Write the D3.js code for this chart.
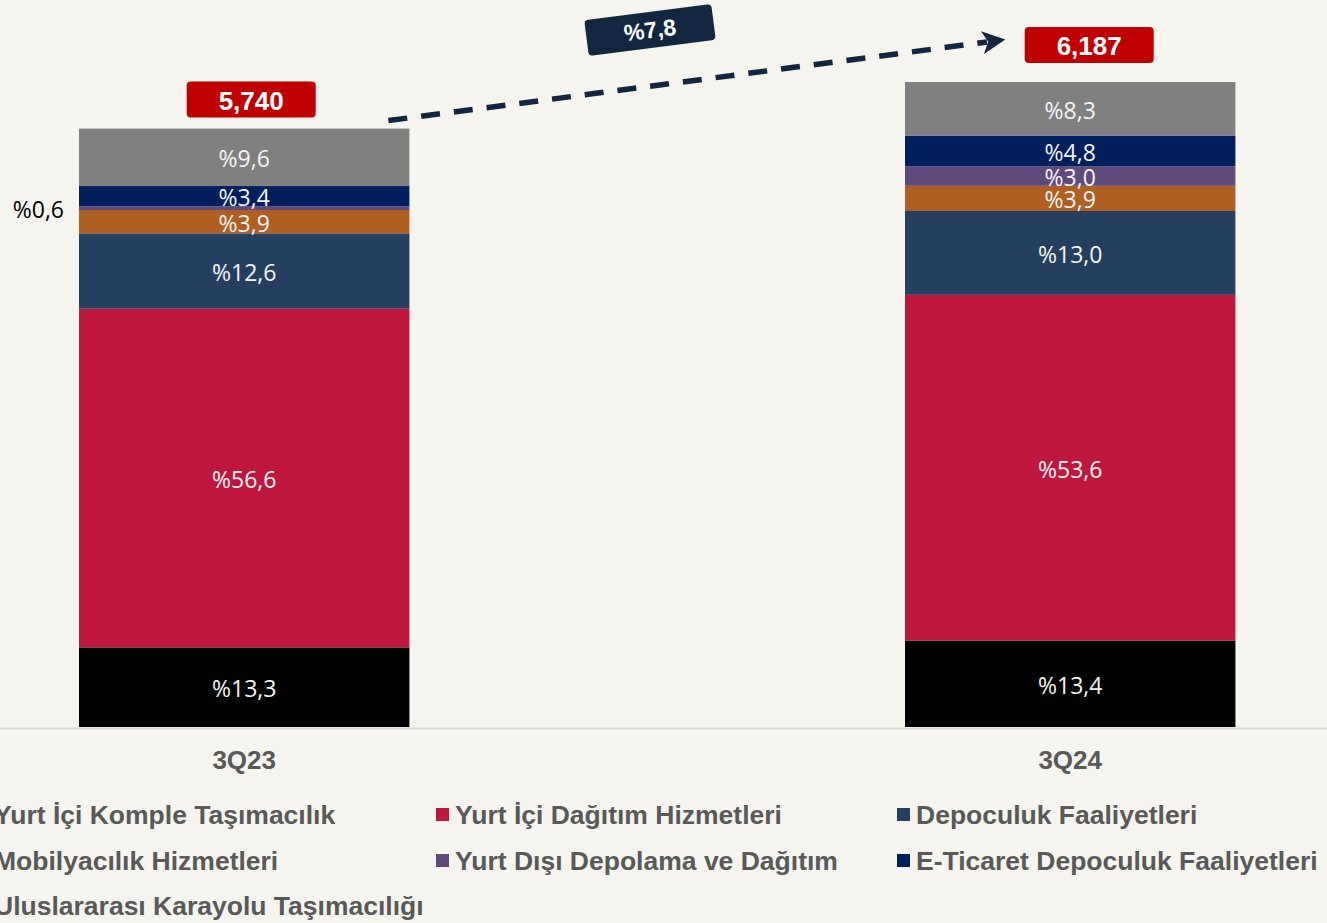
<!DOCTYPE html>
<html><head><meta charset="utf-8">
<script src="https://cdn.jsdelivr.net/npm/d3@7"></script>
<style>
html,body{margin:0;padding:0;background:#F5F4EF;overflow:hidden}
svg{display:block}
</style></head>
<body>
<svg id="c" width="1327" height="923"></svg>
<script>
const categories = ["3Q23", "3Q24"];
const totals = [5740, 6187];
const totalLabels = ["5,740", "6,187"];
const growthLabel = "%7,8";
const seriesNames = [
  "Yurt İçi Komple Taşımacılık",
  "Yurt İçi Dağıtım Hizmetleri",
  "Depoculuk Faaliyetleri",
  "Mobilyacılık Hizmetleri",
  "Yurt Dışı Depolama ve Dağıtım",
  "E-Ticaret Depoculuk Faaliyetleri",
  "Uluslararası Karayolu Taşımacılığı"
];
const share3Q23 = [13.3, 56.6, 12.6, 3.9, 0.6, 3.4, 9.6];
const share3Q24 = [13.4, 53.6, 13.0, 3.9, 3.0, 4.8, 8.3];
const seriesColors = ["#000000", "#BE163C", "#243F60", "#B05F22", "#604A7B", "#001F5C", "#808080"];

const svg = d3.select("#c");
const W = 1327, H = 923;
const baseY = 727;

const x = d3.scaleBand().domain(categories).range([-86.2, 1400.6]).paddingInner(0.6).paddingOuter(0.2);
const y = d3.scaleLinear().domain([0, 6187]).range([baseY, 82]);

const shares = [share3Q23, share3Q24];
const rows = categories.map((c, i) => {
  const r = {cat: c};
  seriesNames.forEach((s, j) => r[s] = shares[i][j] / 100 * totals[i]);
  return r;
});
const stack = d3.stack().keys(seriesNames)(rows);
const fmt = v => "%" + v.toFixed(1).replace(".", ",");

// axis line
svg.append("line").attr("x1", 0).attr("x2", W).attr("y1", baseY + 1.5).attr("y2", baseY + 1.5)
  .attr("stroke", "#D9D9D9").attr("stroke-width", 2);

stack.forEach((layer, j) => {
  const g = svg.append("g");
  layer.forEach((d, i) => {
    g.append("rect")
      .attr("x", x(categories[i]))
      .attr("width", x.bandwidth())
      .attr("y", y(d[1]))
      .attr("height", y(d[0]) - y(d[1]))
      .attr("fill", seriesColors[j]);
  });
});
// labels
const segFont = "Open Sans, sans-serif", segSize = 23;
stack.forEach((layer, j) => {
  layer.forEach((d, i) => {
    const v = shares[i][j];
    const cy = (y(d[0]) + y(d[1])) / 2;
    if (v < 1) {
      svg.append("text").attr("x", x(categories[i]) - 15).attr("y", cy + 1)
        .attr("text-anchor", "end").attr("dominant-baseline", "central")
        .attr("font-family", segFont).attr("font-size", segSize)
        .attr("fill", "#000").text(fmt(v));
    } else {
      svg.append("text").attr("x", x(categories[i]) + x.bandwidth() / 2).attr("y", cy + 1)
        .attr("text-anchor", "middle").attr("dominant-baseline", "central")
        .attr("font-family", segFont).attr("font-size", segSize)
        .attr("fill", "#F5F5F5").text(fmt(v));
    }
  });
});

// category labels
categories.forEach(c => {
  svg.append("text").attr("x", x(c) + x.bandwidth() / 2).attr("y", 760)
    .attr("text-anchor", "middle").attr("dominant-baseline", "central")
    .attr("font-family", "Liberation Sans, Arial, sans-serif").attr("font-weight", "bold")
    .attr("font-size", 26).attr("fill", "#595959").text(c);
});

// total boxes
const boxDX = [7, 19], boxDY = [47, 55];
categories.forEach((c, i) => {
  const cx = x(c) + x.bandwidth() / 2 + boxDX[i];
  const topY = y(totals[i]);
  const bw = 129, bh = 36;
  const by = topY - boxDY[i];
  svg.append("rect").attr("x", cx - bw / 2).attr("y", by).attr("width", bw).attr("height", bh)
    .attr("rx", 4).attr("fill", "#C00000");
  svg.append("text").attr("x", cx).attr("y", by + bh / 2 + 1)
    .attr("text-anchor", "middle").attr("dominant-baseline", "central")
    .attr("font-family", "Liberation Sans, Arial, sans-serif").attr("font-weight", "bold")
    .attr("font-size", 26).attr("fill", "#fff").text(totalLabels[i]);
});

// dashed arrow
const defs = svg.append("defs");
defs.append("marker").attr("id", "ah").attr("viewBox", "0 0 10 10").attr("refX", 2).attr("refY", 5)
  .attr("markerWidth", 4.2).attr("markerHeight", 4.2).attr("orient", "auto").attr("markerUnits", "strokeWidth")
  .append("path").attr("d", "M0,0 L10,5 L0,10 L2.5,5 Z").attr("fill", "#14253F");
const x1 = x("3Q23") + x.bandwidth() - 21, y1 = y(totals[0]) - 8;
const x2 = x("3Q24") + 82, y2 = y(totals[1]) - 40;
svg.append("line").attr("x1", x1).attr("y1", y1).attr("x2", x2).attr("y2", y2)
  .attr("stroke", "#14253F").attr("stroke-width", 5.5).attr("stroke-dasharray", "19,14")
  .attr("marker-end", "url(#ah)");

// growth label
const gl = svg.append("g").attr("transform", "translate(650,30) rotate(-7.3)");
gl.append("rect").attr("x", -64).attr("y", -18).attr("width", 128).attr("height", 36).attr("rx", 4).attr("fill", "#13263F");
gl.append("text").attr("x", 0).attr("y", 0).attr("text-anchor", "middle").attr("dominant-baseline", "central")
  .attr("font-family", "Liberation Sans Narrow, Liberation Sans, Arial, sans-serif").attr("font-weight", "bold")
  .attr("font-size", 23).attr("fill", "#fff").text(growthLabel);

// legend
const legendX = [-25, 436, 897];
const legendY = [814, 860, 905];
seriesNames.forEach((s, j) => {
  const col = j % 3, row = Math.floor(j / 3);
  const lx = legendX[col], ly = legendY[row];
  svg.append("rect").attr("x", lx).attr("y", ly - 6).attr("width", 13).attr("height", 13).attr("fill", seriesColors[j]);
  svg.append("text").attr("x", lx + 19).attr("y", ly + 1).attr("dominant-baseline", "central")
    .attr("font-family", "Liberation Sans, Arial, sans-serif").attr("font-weight", "bold")
    .attr("font-size", 26.5).attr("fill", "#595959").text(s);
});
</script>
</body></html>
